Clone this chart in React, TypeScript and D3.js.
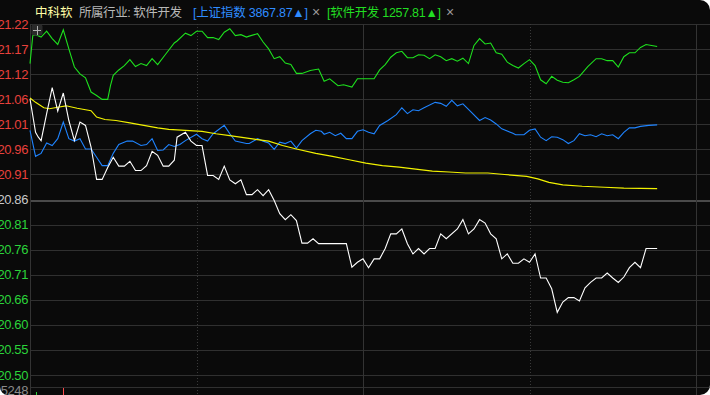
import React from 'react';
import * as d3 from 'd3';

// ---- data ----
const yTickLabels = ["21.22","21.17","21.12","21.06","21.01","20.96","20.91","20.86","20.81","20.76","20.71","20.66","20.60","20.55","20.50"];
const preClose = 20.86;
const priceStep = 0.0511;
const volumeMaxLabel = "5248";

// [minute, value]
const stockLine: [number, number][] = [
  [0,21.065],[2,20.997],[3,20.987],[4,20.980],[6,21.035],[8,21.088],[10,21.040],[12,21.077],[14,21.021],[16,20.980],
  [18,21.018],[20,21.011],[22,20.967],[24,20.901],[26,20.901],[28,20.925],[30,20.946],[32,20.928],[34,20.928],[36,20.938],
  [38,20.919],[40,20.919],[42,20.929],[44,20.958],[46,20.950],[48,20.928],[50,20.928],[52,20.940],[53,20.987],[56,20.997],
  [58,20.979],[60,20.970],[62,20.970],[64,20.909],[66,20.909],[68,20.901],[70,20.928],[72,20.900],[74,20.892],[76,20.900],
  [78,20.870],[80,20.870],[82,20.880],[84,20.868],[86,20.880],[88,20.858],[90,20.831],[92,20.819],[94,20.829],[96,20.817],
  [98,20.771],[100,20.771],[102,20.780],[104,20.770],[114,20.770],[116,20.722],[118,20.732],[120,20.739],[122,20.721],[124,20.739],
  [126,20.739],[128,20.760],[130,20.790],[132,20.790],[134,20.800],[136,20.770],[138,20.749],[140,20.760],[142,20.749],[144,20.760],
  [146,20.760],[148,20.790],[150,20.780],[154,20.800],[156,20.819],[158,20.790],[160,20.800],[162,20.819],[164,20.812],[166,20.790],
  [168,20.780],[170,20.739],[172,20.749],[174,20.730],[176,20.730],[178,20.739],[180,20.732],[182,20.749],[184,20.700],[186,20.700],
  [188,20.678],[190,20.630],[192,20.651],[194,20.660],[196,20.660],[198,20.653],[200,20.680],[202,20.691],[204,20.700],[206,20.700],
  [208,20.710],[210,20.700],[212,20.691],[214,20.702],[216,20.721],[218,20.732],[220,20.721],[222,20.760],[226,20.760]
];

const avgLine: [number, number][] = [
  [0,21.067],[2,21.058],[5,21.047],[7,21.045],[10,21.048],[13,21.051],[17,21.046],[22,21.041],[24,21.028],[27,21.023],
  [31,21.021],[36,21.016],[41,21.011],[46,21.006],[50,21.003],[56,21.001],[62,20.999],[67,20.994],[72,20.990],[77,20.986],
  [82,20.982],[86,20.979],[91,20.970],[96,20.963],[103,20.954],[109,20.948],[115,20.941],[121,20.934],[127,20.929],[133,20.926],
  [139,20.922],[145,20.918],[151,20.916],[157,20.914],[165,20.914],[171,20.911],[179,20.907],[183,20.902],[187,20.895],[192,20.890],
  [199,20.887],[207,20.885],[214,20.883],[226,20.882]
];

const shIndexLine: [number, number][] = [
  [0,21.001],[2,20.948],[4,20.954],[6,20.975],[8,20.970],[10,20.984],[12,21.018],[14,20.984],[16,20.979],[18,20.984],
  [20,20.963],[22,20.963],[24,20.946],[26,20.929],[28,20.929],[30,20.954],[32,20.972],[35,20.979],[37,20.979],[40,20.970],
  [42,20.972],[44,20.984],[46,20.960],[48,20.961],[50,20.972],[52,20.968],[54,20.972],[56,20.980],[60,20.993],[62,20.984],
  [64,20.979],[66,20.994],[70,21.011],[72,20.994],[74,20.979],[78,20.974],[79,20.974],[82,20.984],[84,20.979],[86,20.975],
  [88,20.962],[90,20.977],[92,20.974],[94,20.979],[96,20.965],[98,20.980],[101,20.994],[103,21.001],[105,20.999],[106,20.993],
  [108,20.997],[110,20.990],[112,20.995],[114,20.984],[116,20.984],[118,20.999],[120,21.002],[122,20.997],[124,20.994],[126,21.011],
  [129,21.021],[132,21.033],[134,21.047],[136,21.035],[138,21.043],[140,21.041],[142,21.047],[146,21.058],[148,21.056],[150,21.050],
  [152,21.062],[154,21.051],[156,21.055],[159,21.038],[162,21.021],[164,21.027],[166,21.022],[168,21.014],[170,21.004],[174,20.995],
  [175,20.992],[178,20.992],[180,21.001],[182,21.004],[184,20.987],[186,20.980],[188,20.988],[190,20.987],[192,20.982],[194,20.974],
  [196,20.980],[198,20.994],[200,20.990],[202,20.992],[204,20.988],[206,20.994],[208,20.990],[210,20.992],[212,20.984],[214,20.997],
  [216,21.006],[218,21.006],[220,21.009],[223,21.011],[226,21.012]
];

const sectorLine: [number, number][] = [
  [0,21.137],[1,21.194],[2,21.196],[4,21.191],[6,21.203],[8,21.188],[10,21.176],[12,21.206],[14,21.167],[16,21.130],
  [18,21.116],[20,21.108],[22,21.079],[24,21.072],[26,21.064],[28,21.064],[29,21.092],[30,21.113],[32,21.124],[34,21.133],
  [36,21.145],[38,21.131],[40,21.137],[42,21.133],[44,21.147],[46,21.135],[49,21.157],[52,21.179],[53,21.183],[56,21.199],
  [58,21.194],[60,21.203],[62,21.203],[64,21.190],[66,21.190],[68,21.186],[70,21.201],[72,21.208],[74,21.194],[76,21.196],
  [78,21.191],[79,21.193],[82,21.198],[84,21.181],[86,21.167],[88,21.147],[90,21.151],[92,21.138],[94,21.135],[96,21.117],
  [98,21.117],[101,21.123],[104,21.126],[106,21.101],[108,21.106],[111,21.092],[113,21.094],[116,21.089],[118,21.106],[121,21.106],
  [124,21.106],[126,21.124],[128,21.135],[130,21.150],[132,21.159],[134,21.162],[136,21.149],[138,21.149],[140,21.155],[142,21.154],
  [144,21.147],[146,21.155],[148,21.151],[150,21.143],[152,21.147],[154,21.142],[156,21.148],[158,21.137],[160,21.174],[162,21.188],
  [164,21.177],[166,21.179],[168,21.159],[170,21.156],[172,21.140],[174,21.133],[176,21.128],[178,21.137],[180,21.145],[182,21.133],
  [184,21.104],[186,21.096],[188,21.111],[190,21.103],[192,21.099],[194,21.098],[196,21.104],[198,21.111],[201,21.131],[204,21.147],
  [206,21.147],[208,21.143],[210,21.143],[212,21.130],[214,21.151],[216,21.159],[218,21.159],[220,21.170],[222,21.176],[224,21.174],
  [226,21.172]
];

const volumeMinutes = [2, 12];
const volumeValues = [4720, 5140];
const volumeUp = [false, true];

// ---- layout ----
const W = 710, H = 395;
const L = 30, R = 696, TOP = 24, BOT = 375;
const VOL_TOP = 387;

export default function App() {
  const x = d3.scaleLinear().domain([0, 240]).range([L, R]);
  const y = d3.scaleLinear().domain([preClose - 7 * priceStep, preClose + 7 * priceStep]).range([BOT, TOP]);
  const vy = d3.scaleLinear().domain([0, 5248]).range([VOL_TOP + 50, VOL_TOP]);
  const line = d3.line<[number, number]>().x(d => x(d[0])).y(d => y(d[1]));

  const gridVals = yTickLabels.map((_, i) => preClose + (7 - i) * priceStep);
  const vLines = [0, 60, 120, 180, 240];

  const labelColor = (i: number) => (i < 7 ? '#e8413c' : i === 7 ? '#c8c8c8' : '#2bd33a');
  const font = "'Liberation Sans', Arial, 'Noto Sans CJK SC', sans-serif";

  return (
    <svg width={W} height={H} style={{ position: 'absolute', left: 0, top: 0, display: 'block' }}>
      <defs>
        <clipPath id="frame">
          <path d={`M0,0 H700 A10,10 0 0 1 710,10 V385 A10,10 0 0 1 700,395 H8 A8,8 0 0 1 0,387 Z`} />
        </clipPath>
      </defs>
      <rect x={0} y={0} width={W} height={H} fill="#ffffff" />
      <g clipPath="url(#frame)">
        <rect x={0} y={0} width={W} height={H} fill="#0a0a0a" />
        {/* horizontal grid */}
        {gridVals.map((v, i) => (
          <line key={'h' + i} x1={L} x2={W} y1={Math.round(y(v)) + 0.5} y2={Math.round(y(v)) + 0.5}
            stroke={i === 7 ? '#4a4a4a' : '#303030'} strokeWidth={i === 7 ? 2 : 1} shapeRendering="crispEdges" />
        ))}
        <line x1={L} x2={W} y1={VOL_TOP + 0.5} y2={VOL_TOP + 0.5} stroke="#303030" shapeRendering="crispEdges" />
        {/* vertical grid */}
        {vLines.map((m, i) => (
          <line key={'v' + i} x1={Math.round(x(m)) + 0.5} x2={Math.round(x(m)) + 0.5} y1={TOP} y2={H}
            stroke={i % 2 === 1 ? '#3a3a3a' : '#333333'} strokeDasharray={i % 2 === 1 ? '1,2' : undefined}
            shapeRendering="crispEdges" />
        ))}
        {/* y labels */}
        {gridVals.map((v, i) => (
          <text key={'t' + i} x={28} y={y(v)} textAnchor="end" dominantBaseline="central"
            fontFamily={font} fontSize={13} letterSpacing={-0.4} fill={labelColor(i)}>{yTickLabels[i]}</text>
        ))}
        <text x={28} y={VOL_TOP + 3} textAnchor="end" dominantBaseline="central" fontFamily={font} fontSize={13}
          letterSpacing={-0.4} fill="#8a8a8a">{volumeMaxLabel}</text>
        {/* volume bars */}
        {volumeMinutes.map((m, i) => (
          <line key={'vb' + i} x1={Math.round(x(m)) + 0.5} x2={Math.round(x(m)) + 0.5} y1={vy(volumeValues[i])} y2={H}
            stroke={volumeUp[i] ? '#ff4a4a' : '#2bd33a'} shapeRendering="crispEdges" />
        ))}
        {/* series */}
        <path d={line(shIndexLine) || ''} fill="none" stroke="#1f84ff" strokeWidth={1.1} />
        <path d={line(sectorLine) || ''} fill="none" stroke="#1ee01e" strokeWidth={1.1} />
        <path d={line(avgLine) || ''} fill="none" stroke="#f2f200" strokeWidth={1.2} />
        <path d={line(stockLine) || ''} fill="none" stroke="#ffffff" strokeWidth={1.1} />
        {/* crosshair icon */}
        <rect x={31.5} y={24.5} width={11} height={11} rx={2} fill="#2a2a2a" />
        <line x1={33} x2={41} y1={30.5} y2={30.5} stroke="#b0b0b0" shapeRendering="crispEdges" />
        <line x1={37.5} x2={37.5} y1={26} y2={35} stroke="#b0b0b0" shapeRendering="crispEdges" />
        {/* header */}
        <g fontFamily={font} fontSize={12.5}>
          <text x={35} y={16.5} fill="#ffffa8">中科软</text>
          <text x={79} y={16.5} fill="#b8b8b8" textLength={103}>所属行业: 软件开发</text>
          <text x={193} y={16.5} fill="#2f8cff" textLength={115}>[上证指数 3867.87▲]</text>
          <text x={312} y={16.5} fill="#9a9a9a" fontSize={14}>×</text>
          <text x={327} y={16.5} fill="#22dd22" textLength={114}>[软件开发 1257.81▲]</text>
          <text x={446} y={16.5} fill="#9a9a9a" fontSize={14}>×</text>
        </g>
      </g>
    </svg>
  );
}
